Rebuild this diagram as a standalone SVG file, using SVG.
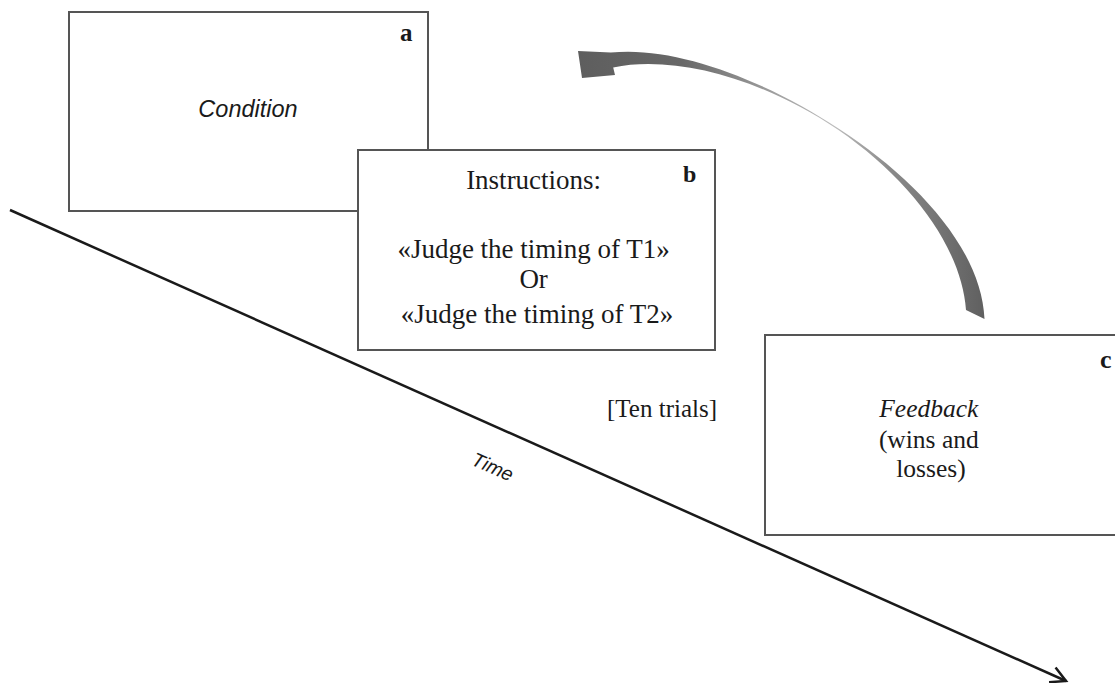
<svg xmlns="http://www.w3.org/2000/svg" width="1115" height="683" viewBox="0 0 1115 683">
  <style>
    .box { fill: #ffffff; stroke: #555555; stroke-width: 2; }
    .serif { font-family: "Liberation Serif", "Times New Roman", serif; fill: #1a1a1a; }
    .sans { font-family: "Liberation Sans", Arial, sans-serif; fill: #1a1a1a; }
    .lbl { font-family: "Liberation Serif", "Times New Roman", serif; font-weight: bold; fill: #1a1a1a; }
    .axis { stroke: #1a1a1a; stroke-width: 2.5; fill: none; }
  </style>
  <defs>
    <marker id="openArrow" markerUnits="userSpaceOnUse" markerWidth="30" markerHeight="30" refX="0" refY="0" viewBox="-20 -15 30 30" orient="auto" overflow="visible">
      <path d="M -15 -8 L 0 0 L -15 8" fill="none" stroke="#1a1a1a" stroke-width="2.5" stroke-linejoin="miter"/>
    </marker>
    <linearGradient id="arcGrad" gradientUnits="userSpaceOnUse" x1="580" y1="0" x2="988" y2="0">
      <stop offset="0" stop-color="#5e5e5e"/>
      <stop offset="0.25" stop-color="#686868"/>
      <stop offset="0.48" stop-color="#a0a0a0"/>
      <stop offset="0.62" stop-color="#bdbdbd"/>
      <stop offset="0.76" stop-color="#8a8a8a"/>
      <stop offset="1" stop-color="#5e5e5e"/>
    </linearGradient>
  </defs>

  <rect width="1115" height="683" fill="#ffffff"/>

  <g id="connectors">
    <line class="axis" x1="10" y1="210" x2="1066" y2="681" marker-end="url(#openArrow)"/>
    <path id="loop-arrow" fill="url(#arcGrad)" d="M 578,51 L 610.8,52.6 C 675.3,45.6 764.9,80.1 839.2,128.9 C 913.9,177.5 981.3,247.5 984.5,319 L 966,310 C 961.7,248.5 911.6,180.5 838.5,130.1 C 765.1,79.9 676.7,54.4 613.2,67.4 L 615,75 L 582,78 Z"/>
  </g>

  <g id="node-a">
    <rect class="box" x="69" y="12" width="359" height="199"/>
    <text class="lbl" x="400" y="41" font-size="25">a</text>
    <text class="sans" x="248" y="117" font-size="23.5" font-style="italic" text-anchor="middle">Condition</text>
  </g>

  <g id="node-b">
    <rect class="box" x="358" y="150" width="357" height="200"/>
    <text class="lbl" x="683" y="182" font-size="24">b</text>
    <text class="serif" font-size="27" text-anchor="middle">
      <tspan x="537" y="189">Instructions:</tspan>
      <tspan x="537" y="258">«Judge the timing of T1»</tspan>
      <tspan x="537" y="288">Or</tspan>
      <tspan x="537" y="323">«Judge the timing of T2»</tspan>
    </text>
  </g>

  <g id="node-c">
    <rect class="box" x="765" y="335" width="400" height="200"/>
    <text class="lbl" x="1100" y="368" font-size="26">c</text>
    <text class="serif" font-size="25.5" text-anchor="middle">
      <tspan x="932" y="417" font-style="italic">Feedback</tspan>
      <tspan x="932" y="448">(wins and</tspan>
      <tspan x="931" y="477">losses)</tspan>
    </text>
  </g>

  <g id="label-trials">
    <text class="serif" x="662" y="417" font-size="25" text-anchor="middle">[Ten trials]</text>
  </g>

  <g id="label-time">
    <text class="sans" font-size="19.5" font-style="italic" text-anchor="middle" transform="translate(490,473) rotate(24)">Time</text>
  </g>
</svg>
